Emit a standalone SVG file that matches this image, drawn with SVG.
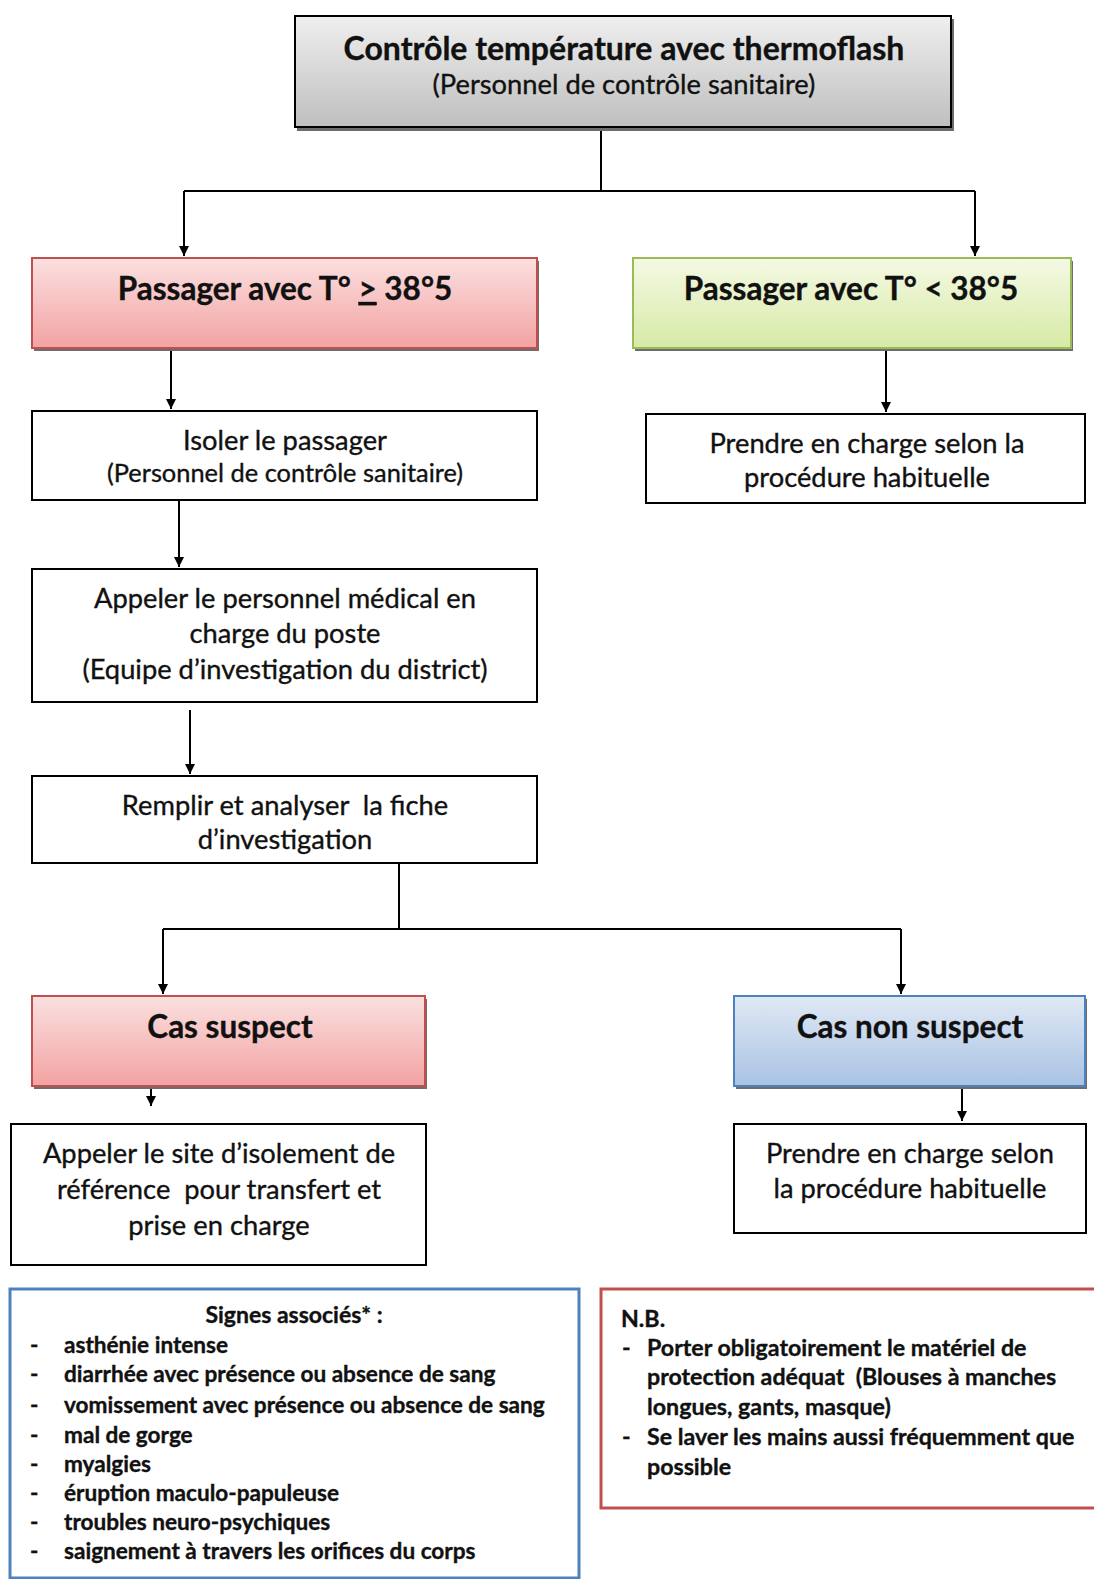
<svg xmlns="http://www.w3.org/2000/svg" width="1094" height="1579" viewBox="0 0 1094 1579">
<defs>
<linearGradient id="gGray" x1="0" y1="0" x2="0" y2="1"><stop offset="0" stop-color="#efefef"/><stop offset="1" stop-color="#bfbfbf"/></linearGradient>
<linearGradient id="gRed" x1="0" y1="0" x2="0" y2="1"><stop offset="0" stop-color="#fbe0e0"/><stop offset="1" stop-color="#f3a2a2"/></linearGradient>
<linearGradient id="gGreen" x1="0" y1="0" x2="0" y2="1"><stop offset="0" stop-color="#f4f9e4"/><stop offset="1" stop-color="#d7eaa6"/></linearGradient>
<linearGradient id="gBlue" x1="0" y1="0" x2="0" y2="1"><stop offset="0" stop-color="#e0e9f5"/><stop offset="1" stop-color="#a9c2e4"/></linearGradient>
<marker id="arr" viewBox="0 0 10 10" refX="10" refY="5" markerWidth="5" markerHeight="5" orient="auto" markerUnits="strokeWidth"><path d="M0,0 L10,5 L0,10 z" fill="#000"/></marker>
<style>
text{font-family:Lato,"Open Sans","Liberation Sans",sans-serif;fill:#111;stroke:#111;stroke-width:0.35;}
.t{font-size:27.3px;text-anchor:middle;}
.h{font-size:31.5px;font-weight:bold;text-anchor:middle;}
.s{font-size:22.6px;font-weight:bold;}
.n{font-size:23.2px;font-weight:bold;}
.box{fill:#fff;stroke:#000;stroke-width:2;}
.shadow{fill:#6d6d6d;}
.conn{fill:none;stroke:#000;stroke-width:2;}
</style>
</defs>

<g id="connectors">
<path class="conn" d="M601,128 V191 M184,191 H975 M184,191 V256" marker-end="url(#arr)"/>
<path class="conn" d="M975,191 V256" marker-end="url(#arr)"/>
<path class="conn" d="M171,349 V409" marker-end="url(#arr)"/>
<path class="conn" d="M886,349 V412" marker-end="url(#arr)"/>
<path class="conn" d="M179,500 V567" marker-end="url(#arr)"/>
<path class="conn" d="M190,710 V774" marker-end="url(#arr)"/>
<path class="conn" d="M399,863 V929 M163,929 H901 M163,929 V994" marker-end="url(#arr)"/>
<path class="conn" d="M901,929 V994" marker-end="url(#arr)"/>
<path class="conn" d="M151,1088 V1106" marker-end="url(#arr)"/>
<path class="conn" d="M962,1088 V1121" marker-end="url(#arr)"/>
</g>

<g id="n-top">
<rect class="shadow" x="297" y="19" width="657" height="112"/>
<rect x="295" y="16" width="656" height="111" fill="url(#gGray)" stroke="#000" stroke-width="2"/>
<text class="h" x="624" y="60" style="font-size:32px">Contrôle température avec thermoflash</text>
<text class="t" x="624" y="94">(Personnel de contrôle sanitaire)</text>
</g>

<g id="n-hot">
<rect class="shadow" x="34" y="261" width="505" height="90"/>
<rect x="32" y="258" width="505" height="90" fill="url(#gRed)" stroke="#c0504d" stroke-width="2"/>
<text class="h" x="285" y="300">Passager avec T° <tspan text-decoration="underline">&gt;</tspan> 38°5</text>
</g>

<g id="n-normal">
<rect class="shadow" x="635" y="261" width="438" height="90"/>
<rect x="633" y="258" width="438" height="90" fill="url(#gGreen)" stroke="#9bbb59" stroke-width="2"/>
<text class="h" x="851" y="300">Passager avec T° &lt; 38°5</text>
</g>

<g id="n-isoler">
<rect class="box" x="32" y="411" width="505" height="89"/>
<text class="t" x="285" y="450">Isoler le passager</text>
<text class="t" x="285" y="482" style="font-size:25.4px">(Personnel de contrôle sanitaire)</text>
</g>

<g id="n-prendre1">
<rect class="box" x="646" y="414" width="439" height="89"/>
<text class="t" x="867" y="453">Prendre en charge selon la</text>
<text class="t" x="867" y="487">procédure habituelle</text>
</g>

<g id="n-appeler">
<rect class="box" x="32" y="569" width="505" height="133"/>
<text class="t" x="285" y="608">Appeler le personnel médical en</text>
<text class="t" x="285" y="643">charge du poste</text>
<text class="t" x="285" y="679">(Equipe d’investigation du district)</text>
</g>

<g id="n-remplir">
<rect class="box" x="32" y="776" width="505" height="87"/>
<text class="t" x="285" y="815" xml:space="preserve">Remplir et analyser  la fiche</text>
<text class="t" x="285" y="849">d’investigation</text>
</g>

<g id="n-suspect">
<rect class="shadow" x="34" y="999" width="393" height="90"/>
<rect x="32" y="996" width="393" height="90" fill="url(#gRed)" stroke="#c0504d" stroke-width="2"/>
<text class="h" x="230" y="1038">Cas suspect</text>
</g>

<g id="n-nonsuspect">
<rect class="shadow" x="736" y="999" width="351" height="90"/>
<rect x="734" y="996" width="351" height="90" fill="url(#gBlue)" stroke="#4f81bd" stroke-width="2"/>
<text class="h" x="910" y="1038">Cas non suspect</text>
</g>

<g id="n-site">
<rect class="box" x="11" y="1124" width="415" height="141"/>
<text class="t" x="219" y="1163">Appeler le site d’isolement de</text>
<text class="t" x="219" y="1199" xml:space="preserve">référence  pour transfert et</text>
<text class="t" x="219" y="1235">prise en charge</text>
</g>

<g id="n-prendre2">
<rect class="box" x="734" y="1124" width="352" height="109"/>
<text class="t" x="910" y="1163">Prendre en charge selon</text>
<text class="t" x="910" y="1198">la procédure habituelle</text>
</g>

<g id="n-signes">
<rect x="10" y="1289" width="569" height="289" fill="#fff" stroke="#4f81bd" stroke-width="3"/>
<text class="s" x="294" y="1323" text-anchor="middle" style="font-size:23px">Signes associés* :</text>
<text class="s" x="30" y="1353">-</text><text class="s" x="64" y="1353">asthénie intense</text>
<text class="s" x="30" y="1382">-</text><text class="s" x="64" y="1382">diarrhée avec présence ou absence de sang</text>
<text class="s" x="30" y="1413">-</text><text class="s" x="64" y="1413">vomissement avec présence ou absence de sang</text>
<text class="s" x="30" y="1443">-</text><text class="s" x="64" y="1443">mal de gorge</text>
<text class="s" x="30" y="1472">-</text><text class="s" x="64" y="1472">myalgies</text>
<text class="s" x="30" y="1501">-</text><text class="s" x="64" y="1501">éruption maculo-papuleuse</text>
<text class="s" x="30" y="1530">-</text><text class="s" x="64" y="1530">troubles neuro-psychiques</text>
<text class="s" x="30" y="1559">-</text><text class="s" x="64" y="1559">saignement à travers les orifices du corps</text>
</g>

<g id="n-nb">
<rect x="601" y="1289" width="510" height="219" fill="#fff" stroke="#c0504d" stroke-width="3"/>
<text class="n" x="621" y="1327">N.B.</text>
<text class="n" x="622" y="1356">-</text><text class="n" x="647" y="1356">Porter obligatoirement le matériel de</text>
<text class="n" x="647" y="1385" xml:space="preserve">protection adéquat  (Blouses à manches</text>
<text class="n" x="647" y="1415">longues, gants, masque)</text>
<text class="n" x="622" y="1445">-</text><text class="n" x="647" y="1445">Se laver les mains aussi fréquemment que</text>
<text class="n" x="647" y="1475">possible</text>
</g>
</svg>
